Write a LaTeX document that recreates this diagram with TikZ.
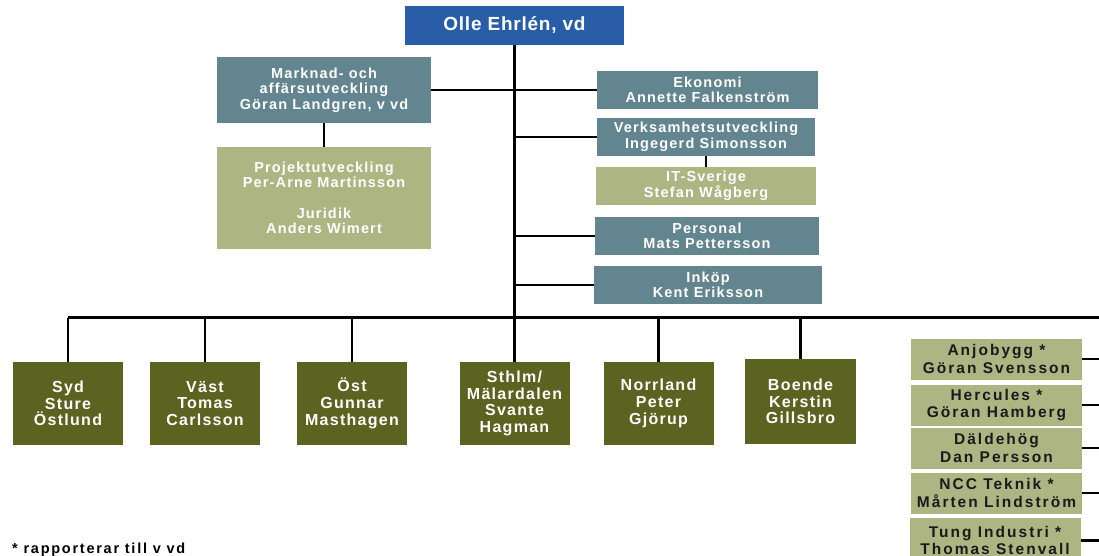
\documentclass[tikz,border=0pt]{standalone}
\usepackage{fontspec}
\setmainfont{Liberation Sans}
% Letter-spaced bold sans families for the different box groups
\newfontfamily\ceofont[LetterSpace=4]{Liberation Sans}
\newfontfamily\stafffont[LetterSpace=8]{Liberation Sans}
\newfontfamily\regionfont[LetterSpace=8]{Liberation Sans}
\newfontfamily\unitfont[LetterSpace=13]{Liberation Sans}
\newfontfamily\notefont[LetterSpace=12]{Liberation Sans}

\definecolor{ceoblue}{HTML}{2A5DA8}
\definecolor{staffteal}{HTML}{62858F}
\definecolor{lightolive}{HTML}{ADB583}
\definecolor{darkolive}{HTML}{5B6320}
\definecolor{unittext}{HTML}{1A1A1A}

\tikzset{
  orgbox/.style={rectangle, inner sep=0pt, align=center},
  ceobox/.style={orgbox, fill=ceoblue, text=white,
    font={\ceofont\bfseries\fontsize{19}{21}\selectfont}},
  staffbox/.style={orgbox, fill=staffteal, text=white,
    font={\stafffont\bfseries\fontsize{14.5}{15.5}\selectfont}},
  supportbox/.style={orgbox, fill=lightolive, text=white,
    font={\stafffont\bfseries\fontsize{14.5}{15.5}\selectfont}},
  regionbox/.style={orgbox, fill=darkolive, text=white,
    minimum width=110pt, minimum height=83pt,
    font={\regionfont\bfseries\fontsize{16}{16.7}\selectfont}},
  unitbox/.style={orgbox, fill=lightolive, text=unittext,
    minimum width=171pt, minimum height=41pt,
    font={\unitfont\bfseries\fontsize{15.5}{17.5}\selectfont}},
  link/.style={draw=black, line width=2.2pt},
  thinlink/.style={draw=black, line width=1.4pt},
}

\begin{document}
\begin{tikzpicture}[x=1pt, y=-1pt]
  \useasboundingbox (0,0) rectangle (1099,556);

  % Managing director
  \node[ceobox, minimum width=219pt, minimum height=39pt] (ceo) at (514.5,25.5)
    {Olle Ehrlén, vd};

  % Staff functions, left
  \node[staffbox, minimum width=214pt, minimum height=66pt] (mark) at (324,90)
    {Marknad- och\\affärsutveckling\\Göran Landgren, v vd};
  \node[supportbox, minimum width=214pt, minimum height=102pt] (proj) at (324,198)
    {Projektutveckling\\Per-Arne Martinsson\\[15pt]Juridik\\Anders Wimert};

  % Staff functions, right
  \node[staffbox, minimum width=221pt, minimum height=38pt] (ekon) at (707.5,90)
    {Ekonomi\\Annette Falkenström};
  \node[staffbox, minimum width=218pt, minimum height=38pt] (verk) at (706,137)
    {Verksamhetsutveckling\\Ingegerd Simonsson};
  \node[supportbox, minimum width=220pt, minimum height=38pt] (it) at (706,186)
    {IT-Sverige\\Stefan Wågberg};
  \node[staffbox, minimum width=224pt, minimum height=38pt] (pers) at (707,236)
    {Personal\\Mats Pettersson};
  \node[staffbox, minimum width=228pt, minimum height=38pt] (inkop) at (708,285)
    {Inköp\\Kent Eriksson};

  % Regions
  \node[regionbox] (syd)   at (68,403.5)  {Syd\\Sture\\Östlund};
  \node[regionbox] (vast)  at (205,403.5) {Väst\\Tomas\\Carlsson};
  \node[regionbox] (ost)   at (352,403.5) {Öst\\Gunnar\\Masthagen};
  \node[regionbox] (sthlm) at (514.5,403.5) {Sthlm/\\Mälardalen\\Svante\\Hagman};
  \node[regionbox] (norr)  at (658.5,403.5) {Norrland\\Peter\\Gjörup};
  \node[regionbox, minimum width=111pt, minimum height=85pt] (boende) at (800.5,401.5)
    {Boende\\Kerstin\\Gillsbro};

  % Business units
  \node[unitbox] (anjo)  at (996.5,359) {Anjobygg *\\Göran Svensson};
  \node[unitbox] (herc)  at (996.5,405) {Hercules *\\Göran Hamberg};
  \node[unitbox] (dalde) at (996.5,448) {Däldehög\\Dan Persson};
  \node[unitbox] (ncc)   at (996.5,493) {NCC Teknik *\\Mårten Lindström};
  \node[unitbox, minimum height=46pt] (tung) at (995,540.5) {Tung Industri *\\Thomas Stenvall};

  % Footnote
  \node[anchor=base west, inner sep=0pt, text=black,
        font={\notefont\bfseries\fontsize{14.5}{16}\selectfont}] (note) at (12,553.5)
    {* rapporterar till v vd};

  % Horizontal bar to regions and units
  \coordinate (barL) at (68,317.5);
  \coordinate (barR) at (1099,317.5);

  % Connectors
  \draw[link] (ceo.south) -- (sthlm.north);
  \draw[link] (mark.east) -- (mark.east -| ceo.south);
  \draw[thinlink] (ekon.west -| ceo.south) -- (ekon.west);
  \draw[link] (mark.south) -- (proj.north);
  \draw[link] (verk.west -| ceo.south) -- (verk.west);
  \draw[link] (verk.south) -- (it.north);
  \draw[thinlink] (pers.west -| ceo.south) -- (pers.west);
  \draw[link] (inkop.west -| ceo.south) -- (inkop.west);
  \draw[link] (barL) -- (barR);
  \foreach \r in {syd, vast, ost, norr, boende}
    \draw[link] (\r.north) -- (\r.north |- barL);
  \foreach \u in {anjo, herc, dalde, ncc, tung}
    \draw[link] (\u.east) -- (\u.east -| barR);
\end{tikzpicture}
\end{document}
